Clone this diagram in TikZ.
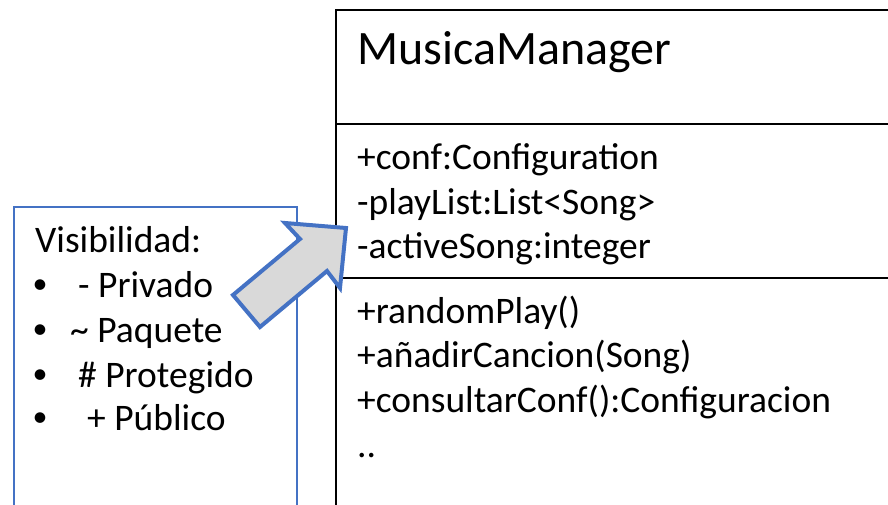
\documentclass[tikz,border=0pt]{standalone}
\usepackage{fontspec}
\setmainfont{Carlito}
\definecolor{ofblue}{HTML}{4472C4}
\definecolor{ofgray}{HTML}{D9D9D9}
\tikzset{
  txt/.style={anchor=base west, inner sep=0pt, font=\fontsize{37.5}{44}\selectfont},
  ttl/.style={anchor=base west, inner sep=0pt, font=\fontsize{48}{56}\selectfont},
  vis/.style={anchor=base west, inner sep=0pt, font=\fontsize{37.5}{44}\selectfont},
  bul/.style={anchor=center, inner sep=0pt, font=\fontsize{30}{36}\selectfont},
  classline/.style={draw=black, line width=2pt},
  visbox/.style={draw=ofblue, line width=1.5pt},
  blockarrow/.style={draw=ofblue, fill=ofgray, line width=4pt, line join=miter}
}
\begin{document}
\begin{tikzpicture}[x=1pt,y=-1pt]
\useasboundingbox (0,0) rectangle (888,505);
\clip (0,0) rectangle (888,505);
% class box
\coordinate (clsTL) at (336,10);
\coordinate (clsBL) at (336,520);
\coordinate (clsTR) at (900,10);
\draw[classline] (clsBL) -- (clsTL) -- (clsTR);
\coordinate (sepA) at (336,124);
\coordinate (sepAe) at (900,124);
\coordinate (sepB) at (336,278);
\coordinate (sepBe) at (900,278);
\draw[classline] (sepA) -- (sepAe);
\draw[classline] (sepB) -- (sepBe);
\node[ttl] (title) at (357,65) {MusicaManager};
\node[txt] (a1) at (357,170) {+conf:Configuration};
\node[txt] (a2) at (357,214) {-playList:List<Song>};
\node[txt] (a3) at (357,258) {-activeSong:integer};
\node[txt] (m1) at (357,323) {+randomPlay()};
\node[txt] (m2) at (357,367) {+añadirCancion(Song)};
\node[txt] (m3) at (357,412) {+consultarConf():Configuracion};
\node[txt] (m4) at (357,457) {..};
% visibility box
\coordinate (visTL) at (14,207);
\coordinate (visBR) at (297,520);
\draw[visbox] (visTL) rectangle (visBR);
\node[vis] (vt) at (35,252) {Visibilidad:};
\node[bul] (b1) at (40,287) {•};
\node[bul] (b2) at (40,332) {•};
\node[bul] (b3) at (40,377) {•};
\node[bul] (b4) at (40,420) {•};
\node[vis] (v1) at (78,297) {- Privado};
\node[vis] (v2) at (70,342) {\textasciitilde{} Paquete};
\node[vis] (v3) at (78,387) {\# Protegido};
\node[vis] (v4) at (87,430) {+ Público};
% block arrow
\draw[blockarrow] (233,295) -- (300,239) -- (285,223) -- (346,228) -- (340,288) -- (327,271) -- (260,327) -- cycle;
\end{tikzpicture}
\end{document}
